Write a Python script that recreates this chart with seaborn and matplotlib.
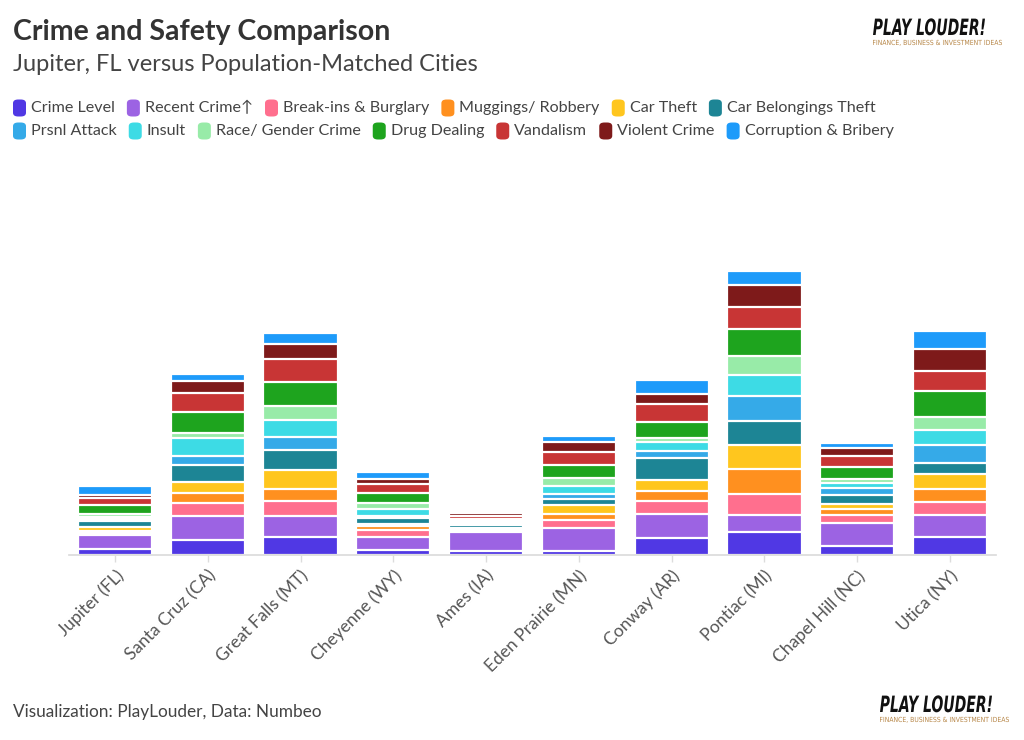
import matplotlib
matplotlib.use("Agg")
import matplotlib.pyplot as plt
from matplotlib.patches import FancyBboxPatch, PathPatch
from matplotlib.textpath import TextPath
from matplotlib.font_manager import FontProperties
from matplotlib.transforms import Affine2D
import pandas as pd
import seaborn as sns

# Cities and crime categories (Numbeo-style indices)
cities = ["Jupiter (FL)", "Santa Cruz (CA)", "Great Falls (MT)", "Cheyenne (WY)", "Ames (IA)",
          "Eden Prairie (MN)", "Conway (AR)", "Pontiac (MI)", "Chapel Hill (NC)", "Utica (NY)"]

categories = ["Crime Level", "Recent Crime\u2191", "Break-ins & Burglary", "Muggings/ Robbery",
              "Car Theft", "Car Belongings Theft", "Prsnl Attack", "Insult", "Race/ Gender Crime",
              "Drug Dealing", "Vandalism", "Violent Crime", "Corruption & Bribery"]

palette = ["#5038E4", "#9C63E3", "#FF6F8E", "#FF901F", "#FFC61E", "#1D8595", "#35AAE8",
           "#3DDBE5", "#98EBA8", "#1EA41E", "#C83535", "#7E1A1A", "#1E9BFA"]

crime_level = [19, 44, 53, 16, 12, 12, 50, 70, 28, 55]
recent_crime = [41, 72, 64, 38, 56, 69, 74, 50, 68, 65]
break_ins = [6, 41, 45, 20, 4, 25, 37, 64, 24, 40]
muggings = [6, 30, 36, 12, 4, 18, 32, 73, 17, 37]
car_theft = [13, 32, 58, 8, 4, 25, 32, 73, 15, 45]
car_belongings = [17, 51, 60, 16, 9, 20, 67, 73, 28, 35]
prsnl_attack = [5, 28, 37, 8, 6, 15, 20, 73, 20, 53]
insult = [8, 52, 52, 21, 4, 23, 26, 65, 17, 44]
race_gender = [7, 15, 42, 18, 4, 25, 12, 57, 10, 41]
drug_dealing = [29, 64, 72, 28, 6, 38, 50, 81, 36, 77]
vandalism = [21, 58, 69, 29, 9, 39, 53, 65, 34, 61]
violent_crime = [9, 34, 45, 14, 7, 29, 30, 65, 25, 64]
corruption = [25, 22, 32, 20, 6, 19, 42, 44, 13, 56]

series = [crime_level, recent_crime, break_ins, muggings, car_theft, car_belongings,
          prsnl_attack, insult, race_gender, drug_dealing, vandalism, violent_crime, corruption]

W, H = 1024, 740


def fy(py):
    return 1 - py / H


def squeezed_text(fig, text, x0, ybase, width, height, color, prop):
    # text drawn as a path and stretched to a given pixel box (condensed logo lettering)
    path = TextPath((0, 0), text, size=20, prop=prop)
    ext = path.get_extents()
    tr = (Affine2D().translate(-ext.x0, 0)
          .scale(width / ext.width, height / ext.height)
          .translate(x0, H - ybase)
          .scale(1 / W, 1 / H)) + fig.transFigure
    fig.patches.append(PathPatch(path, transform=tr, facecolor=color, edgecolor="none"))


def plot_chart():
    sns.set_theme(style="white")
    plt.rcParams["font.family"] = ["Lato", "DejaVu Sans"]

    wide = pd.DataFrame({c: v for c, v in zip(categories, series)}, index=cities)
    stacked = wide.cumsum(axis=1)

    fig = plt.figure(figsize=(W / 100, H / 100), dpi=100)
    ax = fig.add_axes([68.6 / W, fy(555), (996.4 - 68.6) / W, 375 / H])

    # draw cumulative totals from the top layer down, so each layer covers the one above
    for cat, col in reversed(list(zip(categories, palette))):
        df = pd.DataFrame({"city": cities, "value": stacked[cat].values})
        sns.barplot(data=df, x="city", y="value", order=cities, color=col, saturation=1,
                    width=0.8, edgecolor="white", linewidth=1.6, errorbar=None, ax=ax)

    ax.set_xlim(-0.5, 9.5)
    ax.set_ylim(0, 1125)
    ax.set_xlabel("")
    ax.set_ylabel("")
    ax.set_yticks([])
    for s in ["left", "top", "right"]:
        ax.spines[s].set_visible(False)
    ax.spines["bottom"].set_color("#dcdcdc")
    ax.tick_params(axis="x", bottom=True, length=5, width=1, color="#dcdcdc",
                   labelcolor="#555555", labelsize=12.5, pad=4)
    for lbl in ax.get_xticklabels():
        lbl.set_rotation(45)
        lbl.set_ha("right")
        lbl.set_rotation_mode("anchor")

    # titles
    fig.text(13 / W, fy(40), "Crime and Safety Comparison", fontsize=20.5, fontweight="bold",
             color="#333333", va="baseline")
    fig.text(13 / W, fy(71), "Jupiter, FL versus Population-Matched Cities", fontsize=17,
             color="#444444", va="baseline")

    # flowing legend
    renderer = fig.canvas.get_renderer()
    rows = [(categories[:6], palette[:6], 108), (categories[6:], palette[6:], 131)]
    for labels, cols, yc in rows:
        x = 13
        for lab, col in zip(labels, cols):
            fig.patches.append(FancyBboxPatch((x / W, fy(yc + 8.5)), 13 / W, 17 / H,
                                              boxstyle="round,pad=0,rounding_size=0.005",
                                              transform=fig.transFigure, facecolor=col,
                                              edgecolor="none"))
            t = fig.text((x + 18) / W, fy(yc), lab, fontsize=11.6, color="#444444", va="center")
            bb = t.get_window_extent(renderer)
            x = bb.x1 + 12

    # footer
    fig.text(13 / W, fy(717), "Visualization: PlayLouder, Data: Numbeo", fontsize=12.4,
             color="#444444", va="baseline")

    # logos
    logo_prop = FontProperties(family="DejaVu Sans", weight="bold", style="italic")
    tag_prop = FontProperties(family="DejaVu Sans", weight="normal")
    for x0, ybase in [(873, 35), (880, 712)]:
        squeezed_text(fig, "PLAY LOUDER!", x0, ybase, 112, 17, "#111111", logo_prop)
        squeezed_text(fig, "FINANCE, BUSINESS & INVESTMENT IDEAS", x0, ybase + 10, 129, 6,
                      "#B8884A", tag_prop)

    fig.savefig("out.png", dpi=100)
    plt.close(fig)


if __name__ == "__main__":
    plot_chart()
